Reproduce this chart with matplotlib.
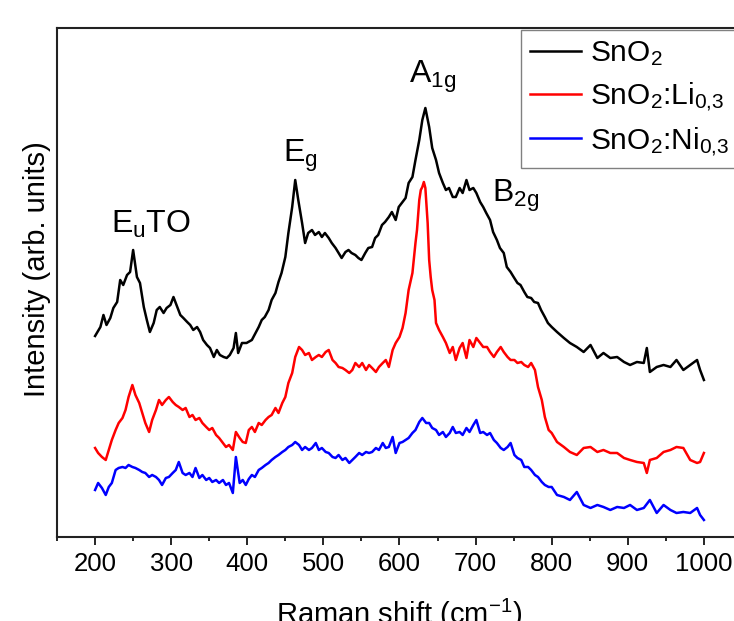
import matplotlib
matplotlib.use("Agg")
import matplotlib.pyplot as plt

plt.rcParams['font.family'] = ['Liberation Sans', 'DejaVu Sans']
plt.rcParams['mathtext.fontset'] = 'custom'
plt.rcParams['mathtext.rm'] = 'Liberation Sans'
plt.rcParams['mathtext.it'] = 'Liberation Sans:italic'
plt.rcParams['mathtext.bf'] = 'Liberation Sans:bold'
plt.rcParams['mathtext.default'] = 'regular'

# Raman spectra, intensity in arbitrary units (curves already offset)
sno2_shift = [200, 207, 211, 215, 220, 224, 229, 233, 237, 242, 246, 250, 255, 259, 264, 268, 272, 277, 281,
              285, 290, 294, 299, 303, 307, 312, 316, 321, 325, 329, 334, 338, 342, 347, 351, 356, 360, 364,
              369, 373, 377, 382, 385, 388, 393, 399, 406, 415, 419, 423, 428, 432, 437, 441, 445, 450, 454,
              459, 463, 467, 472, 476, 480, 485, 489, 494, 498, 502, 507, 511, 516, 520, 524, 529, 533, 537,
              542, 546, 550, 555, 559, 564, 568, 572, 577, 581, 586, 590, 595, 599, 604, 608, 612, 617, 621,
              626, 630, 634, 639, 643, 648, 652, 657, 661, 665, 670, 674, 679, 683, 688, 692, 697, 701, 706,
              710, 714, 719, 723, 728, 732, 737, 741, 746, 750, 755, 759, 764, 768, 773, 777, 782, 786, 791,
              795, 800, 807, 816, 824, 833, 842, 851, 860, 868, 877, 886, 895, 903, 912, 921, 925, 929, 938,
              947, 956, 964, 973, 982, 991, 995, 1000]
sno2_int = [201, 210, 222, 212, 219, 229, 235, 257, 252, 262, 265, 287, 260, 254, 230, 217, 205, 214, 227,
            230, 224, 229, 232, 240, 232, 222, 219, 215, 212, 207, 210, 205, 197, 192, 189, 180, 187, 182,
            180, 179, 182, 189, 204, 184, 194, 194, 197, 210, 217, 220, 227, 237, 244, 255, 264, 280, 304,
            330, 357, 337, 314, 294, 304, 307, 302, 305, 300, 304, 299, 294, 289, 284, 279, 285, 287, 284,
            282, 279, 277, 284, 289, 290, 299, 302, 312, 315, 320, 325, 317, 330, 335, 339, 354, 360, 377,
            397, 417, 429, 410, 389, 377, 364, 354, 347, 349, 340, 340, 349, 344, 357, 347, 349, 344, 335,
            330, 324, 317, 305, 297, 289, 284, 270, 265, 260, 254, 252, 245, 240, 239, 235, 234, 227, 220,
            214, 210, 205, 199, 194, 190, 185, 192, 179, 184, 179, 180, 175, 172, 175, 174, 189, 165, 170,
            172, 170, 177, 167, 172, 177, 167, 157]

li_shift = [200, 204, 209, 214, 218, 222, 227, 231, 236, 240, 244, 249, 253, 258, 262, 266, 271, 275, 280,
            284, 288, 293, 297, 302, 306, 310, 315, 319, 324, 328, 332, 337, 341, 346, 350, 354, 359, 363,
            368, 372, 376, 381, 385, 390, 394, 398, 402, 406, 410, 415, 419, 424, 428, 432, 437, 441, 446,
            450, 454, 459, 463, 468, 472, 476, 481, 485, 490, 494, 498, 503, 507, 512, 516, 520, 525, 529,
            534, 538, 542, 547, 551, 556, 560, 564, 569, 573, 578, 582, 586, 591, 595, 600, 604, 608, 612,
            617, 621, 623, 626, 628, 630, 632, 634, 637, 639, 641, 643, 646, 648, 652, 657, 661, 666, 670,
            674, 679, 683, 688, 692, 697, 701, 706, 710, 715, 719, 724, 728, 733, 737, 742, 746, 751, 755,
            760, 764, 769, 773, 778, 782, 787, 791, 796, 800, 807, 816, 824, 833, 842, 851, 860, 868, 877,
            886, 895, 903, 912, 921, 925, 929, 938, 947, 956, 964, 973, 982, 991, 995, 1000]
li_int = [89, 84, 80, 77, 87, 97, 107, 114, 119, 127, 140, 152, 142, 134, 124, 114, 105, 117, 127,
          137, 132, 137, 140, 135, 132, 130, 127, 129, 120, 122, 117, 119, 114, 110, 107, 109, 102, 99,
          94, 90, 92, 87, 105, 99, 95, 94, 107, 110, 105, 114, 112, 117, 120, 122, 129, 124, 134,
          140, 154, 164, 180, 190, 187, 182, 184, 177, 180, 182, 180, 185, 187, 177, 174, 170, 169, 167,
          164, 167, 174, 170, 174, 167, 172, 169, 165, 170, 174, 177, 170, 187, 194, 200, 209, 224, 247,
          264, 294, 307, 337, 347, 350, 355, 349, 314, 277, 260, 247, 237, 214, 207, 200, 194, 184, 190,
          177, 189, 194, 179, 197, 190, 199, 194, 190, 190, 185, 180, 185, 190, 185, 180, 177, 177, 174,
          175, 172, 170, 174, 167, 150, 137, 120, 107, 104, 95, 90, 85, 82, 89, 90, 85, 87, 84,
          84, 79, 77, 75, 74, 64, 77, 79, 85, 87, 90, 89, 77, 74, 75, 84]

ni_shift = [200, 204, 209, 214, 218, 222, 227, 231, 236, 240, 244, 249, 253, 258, 262, 266, 271, 275, 280,
            284, 288, 293, 297, 302, 306, 310, 315, 319, 324, 328, 332, 337, 341, 346, 350, 354, 359, 363,
            368, 372, 376, 381, 385, 390, 394, 398, 402, 406, 410, 415, 419, 424, 428, 432, 437, 441, 446,
            450, 454, 459, 463, 468, 472, 476, 481, 485, 490, 494, 498, 503, 507, 512, 516, 520, 525, 529,
            534, 538, 542, 547, 551, 556, 560, 564, 569, 573, 578, 582, 586, 591, 595, 600, 604, 608, 612,
            617, 621, 626, 630, 635, 639, 643, 648, 652, 657, 661, 666, 670, 674, 679, 683, 688, 692, 697,
            701, 706, 710, 715, 719, 724, 728, 733, 737, 742, 746, 751, 755, 760, 764, 769, 773, 778, 782,
            787, 791, 796, 800, 807, 816, 824, 833, 842, 851, 860, 868, 877, 886, 895, 903, 912, 921, 929,
            938, 947, 956, 964, 973, 982, 991, 995, 1000]
ni_int = [47, 54, 49, 42, 50, 54, 67, 69, 70, 69, 72, 70, 69, 67, 65, 64, 60, 62, 60,
          57, 52, 59, 60, 64, 67, 75, 64, 62, 64, 60, 69, 59, 62, 57, 59, 55, 57, 54,
          57, 52, 54, 44, 80, 54, 57, 52, 58, 62, 60, 67, 69, 72, 74, 77, 80, 82, 85,
          87, 90, 92, 95, 92, 87, 90, 87, 89, 94, 87, 89, 85, 84, 80, 79, 82, 77, 79,
          74, 77, 80, 84, 82, 85, 84, 85, 89, 87, 94, 89, 90, 100, 84, 94, 95, 97, 99,
          104, 107, 115, 119, 114, 114, 109, 107, 102, 105, 100, 104, 110, 104, 105, 102, 109, 105, 112,
          117, 104, 105, 102, 104, 97, 94, 89, 87, 90, 94, 82, 79, 77, 70, 70, 67, 62, 60,
          55, 52, 50, 50, 42, 40, 37, 45, 32, 29, 32, 30, 27, 30, 29, 32, 27, 29, 37,
          24, 32, 27, 24, 25, 24, 29, 22, 17]

series_labels = ['SnO$_2$', 'SnO$_2$:Li$_{0{,}3}$', 'SnO$_2$:Ni$_{0{,}3}$']
series_colors = ['black', '#ff0000', '#0000ff']

# mode labels and where they sit (shift, intensity)
mode_labels = ['E$_u$TO', 'E$_g$', 'A$_{1g}$', 'B$_{2g}$']
mode_x = [274, 470, 643, 753]
mode_y = [304, 375, 454, 335]

fig = plt.figure(figsize=(7.34, 6.21), dpi=100)
ax = fig.add_axes([0.0777, 0.1353, 0.9435, 0.8196])

ax.plot(sno2_shift, sno2_int, color=series_colors[0], lw=1.8, label=series_labels[0])
ax.plot(li_shift, li_int, color=series_colors[1], lw=1.8, label=series_labels[1])
ax.plot(ni_shift, ni_int, color=series_colors[2], lw=1.8, label=series_labels[2])

for lab, x, y in zip(mode_labels, mode_x, mode_y):
    ax.text(x, y, lab, fontsize=23, ha='center', va='baseline')

ax.set_xlim(150, 1060)
ax.set_ylim(0, 509)
ax.set_xticks(range(200, 1001, 100))
ax.set_xticks(range(150, 1060, 50), minor=True)
ax.set_yticks([])
ax.tick_params(axis='x', which='major', direction='out', length=6, width=1.2, labelsize=18.5, pad=5)
ax.tick_params(axis='x', which='minor', direction='out', length=3, width=1.2)
for sp in ax.spines.values():
    sp.set_linewidth(1.5)
    sp.set_color('#222222')

ax.set_xlabel('Raman shift (cm$^{-1}$)', fontsize=21)
ax.xaxis.set_label_coords(0.494, -0.118)
ax.set_ylabel('Intensity (arb. units)', fontsize=21)
ax.yaxis.set_label_coords(-0.009, 0.527)

leg = ax.legend(loc='upper left', bbox_to_anchor=(0.6696, 0.9961), fontsize=21.5, frameon=True,
                fancybox=False, edgecolor='#808080', framealpha=1, borderaxespad=0,
                borderpad=0.32, handlelength=1.7, handletextpad=0.3, labelspacing=0.4)
leg.get_frame().set_linewidth(1.0)

fig.savefig('out.png', dpi=100)
